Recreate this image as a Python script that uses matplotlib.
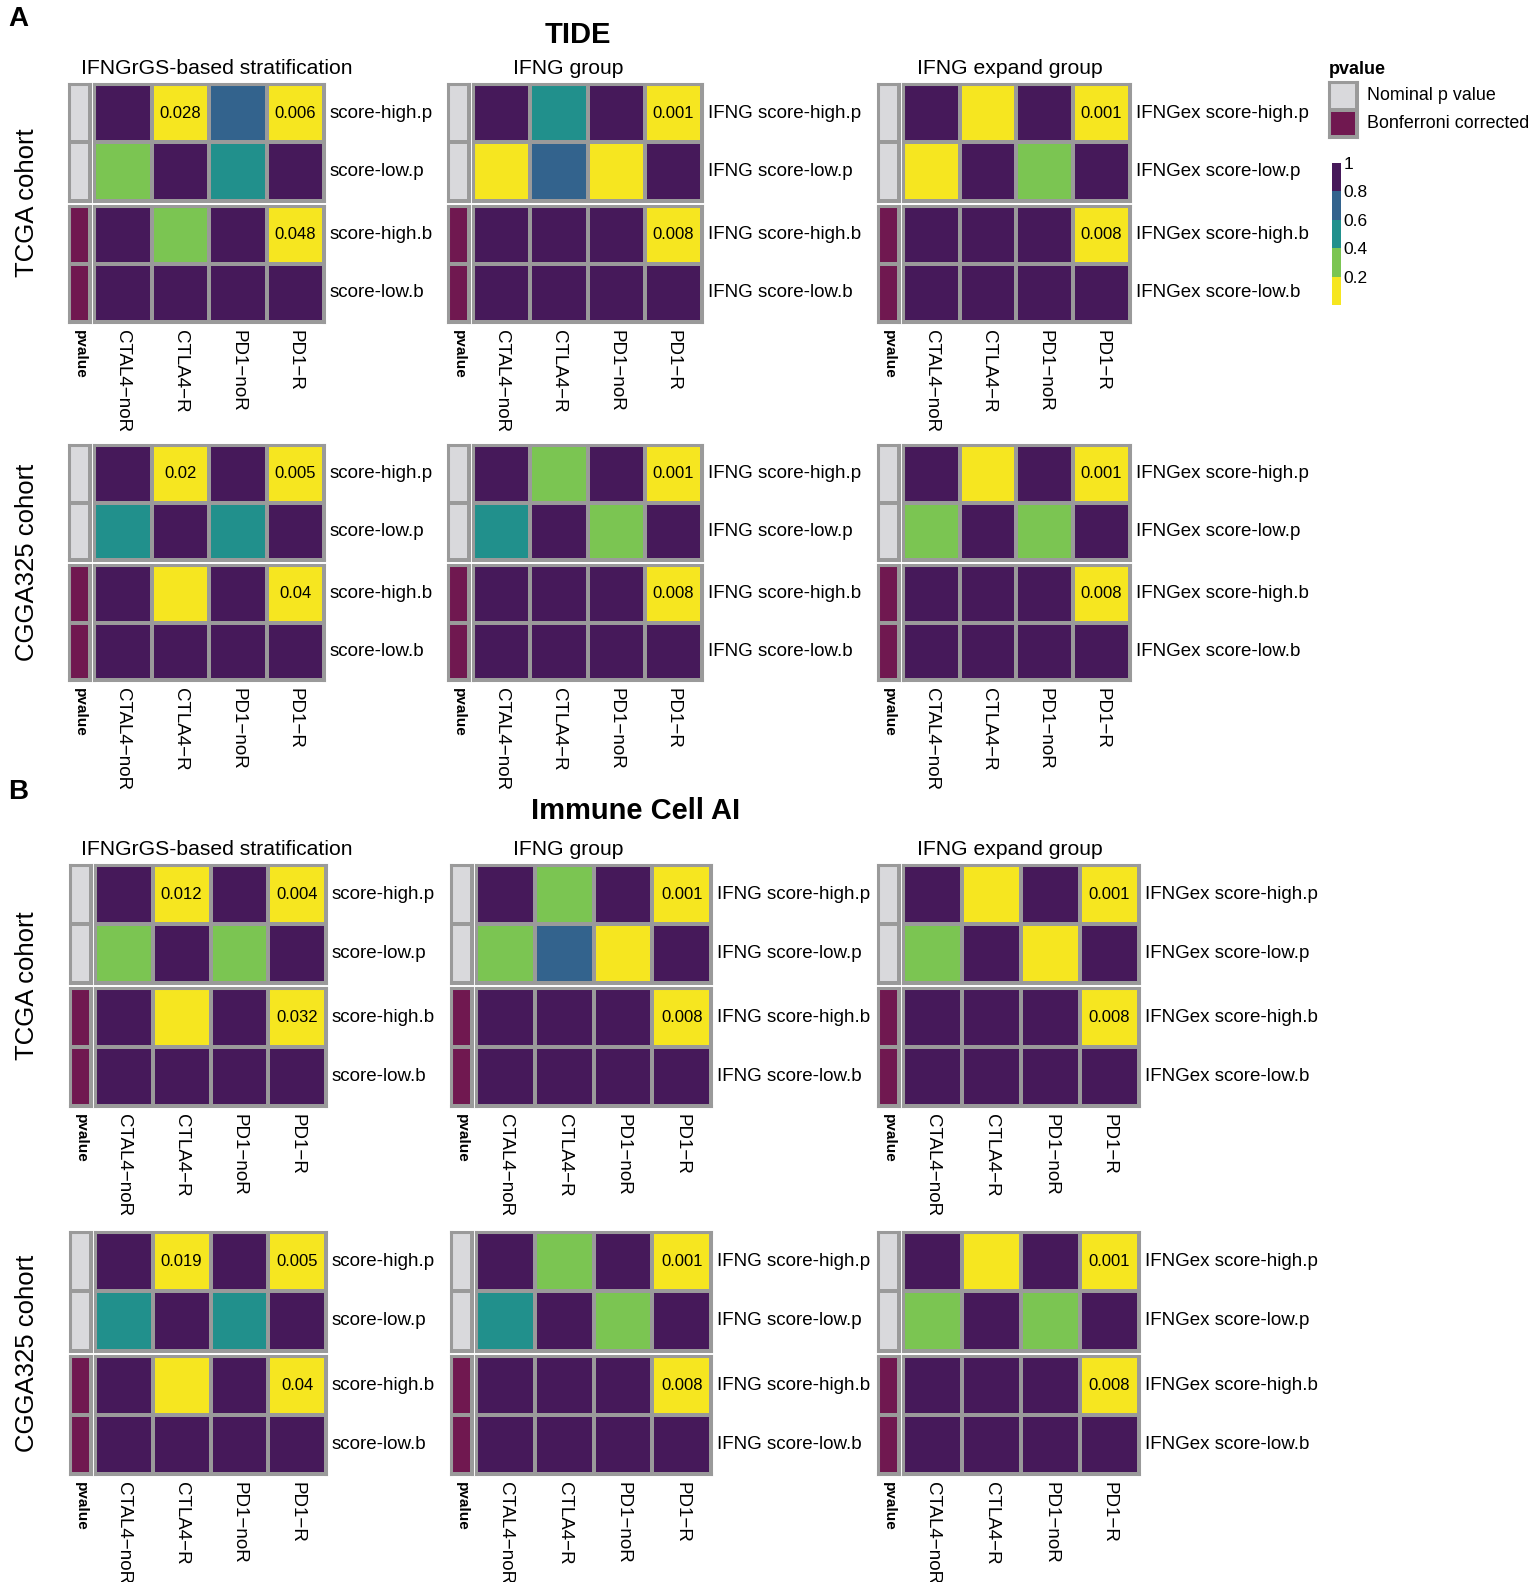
import matplotlib
matplotlib.use("Agg")
import matplotlib.pyplot as plt
import numpy as np
from matplotlib.colors import ListedColormap, BoundaryNorm
from matplotlib.cm import ScalarMappable

plt.rcParams['font.family'] = ['Liberation Sans', 'DejaVu Sans']

# ---- data ----
col_names = ["CTAL4\u2212noR", "CTLA4\u2212R", "PD1\u2212noR", "PD1\u2212R"]
row_suffix = ["score-high.p", "score-low.p", "score-high.b", "score-low.b"]
row_prefix = ["", "IFNG ", "IFNGex "]
group_titles = ["IFNGrGS-based stratification", "IFNG group", "IFNG expand group"]
cohorts = ["TCGA cohort", "CGGA325 cohort"]
pvalue_type = ["Nominal p value", "Nominal p value", "Bonferroni corrected", "Bonferroni corrected"]

# rows: high.p, low.p, high.b, low.b ; cols: CTAL4-noR, CTLA4-R, PD1-noR, PD1-R
tide_tcga_ifngrgs = [[0.9, 0.028, 0.7, 0.006], [0.3, 0.9, 0.5, 0.9], [1, 0.224, 1, 0.048], [1, 1, 1, 1]]
tide_tcga_ifng = [[0.9, 0.5, 0.9, 0.001], [0.1, 0.7, 0.1, 0.9], [1, 1, 1, 0.008], [1, 1, 1, 1]]
tide_tcga_ifngex = [[0.9, 0.1, 0.9, 0.001], [0.1, 0.9, 0.3, 0.9], [1, 1, 1, 0.008], [1, 1, 1, 1]]
tide_cgga_ifngrgs = [[0.9, 0.02, 0.9, 0.005], [0.5, 0.9, 0.5, 0.9], [1, 0.16, 1, 0.04], [1, 1, 1, 1]]
tide_cgga_ifng = [[0.9, 0.3, 0.9, 0.001], [0.5, 0.9, 0.3, 0.9], [1, 1, 1, 0.008], [1, 1, 1, 1]]
tide_cgga_ifngex = [[0.9, 0.1, 0.9, 0.001], [0.3, 0.9, 0.3, 0.9], [1, 1, 1, 0.008], [1, 1, 1, 1]]

ai_tcga_ifngrgs = [[0.9, 0.012, 0.9, 0.004], [0.3, 0.9, 0.3, 0.9], [1, 0.096, 1, 0.032], [1, 1, 1, 1]]
ai_tcga_ifng = [[0.9, 0.3, 0.9, 0.001], [0.3, 0.7, 0.1, 0.9], [1, 1, 1, 0.008], [1, 1, 1, 1]]
ai_tcga_ifngex = [[0.9, 0.1, 0.9, 0.001], [0.3, 0.9, 0.1, 0.9], [1, 1, 1, 0.008], [1, 1, 1, 1]]
ai_cgga_ifngrgs = [[0.9, 0.019, 0.9, 0.005], [0.5, 0.9, 0.5, 0.9], [1, 0.152, 1, 0.04], [1, 1, 1, 1]]
ai_cgga_ifng = [[0.9, 0.3, 0.9, 0.001], [0.5, 0.9, 0.3, 0.9], [1, 1, 1, 0.008], [1, 1, 1, 1]]
ai_cgga_ifngex = [[0.9, 0.1, 0.9, 0.001], [0.3, 0.9, 0.3, 0.9], [1, 1, 1, 0.008], [1, 1, 1, 1]]

sections = [
    ("A", "TIDE", [[tide_tcga_ifngrgs, tide_tcga_ifng, tide_tcga_ifngex],
                   [tide_cgga_ifngrgs, tide_cgga_ifng, tide_cgga_ifngex]]),
    ("B", "Immune Cell AI", [[ai_tcga_ifngrgs, ai_tcga_ifng, ai_tcga_ifngex],
                             [ai_cgga_ifngrgs, ai_cgga_ifng, ai_cgga_ifngex]]),
]

# ---- layout (pixels) ----
W, H = 1535, 1582
sec_cols = [[(94, 324), (473, 702), (903, 1130)],
            [(95, 326), (476, 711), (903, 1139)]]
sec_rows = [[(84, 322), (445, 680)],
            [(865, 1106), (1232, 1474)]]
sec_letter_y = [19, 792]
sec_title = [(578, 35), (636, 811)]
sec_group_title_y = [68, 850]
group_title_x = [217, 568, 1010]

heat_cmap = ListedColormap(['#F6E620', '#7BC552', '#21908C', '#33638D', '#46195A'])
heat_norm = BoundaryNorm([0, 0.2, 0.4, 0.6, 0.8, 1.0], heat_cmap.N)
type_levels = ["Nominal p value", "Bonferroni corrected"]
type_cmap = ListedColormap(['#D9D9DC', '#701850'])
edge = '#9a9a9a'

fig = plt.figure(figsize=(W / 100, H / 100), dpi=100)


def add_ax(x0, y0, x1, y1):
    return fig.add_axes([x0 / W, 1 - y1 / H, (x1 - x0) / W, (y1 - y0) / H])


def style(ax):
    ax.set_xticks([])
    ax.set_yticks([])
    for s in ax.spines.values():
        s.set_color(edge)
        s.set_linewidth(2.2)


for si, (letter, title, panels) in enumerate(sections):
    fig.text(8 / W, 1 - sec_letter_y[si] / H, letter, fontsize=20, fontweight='bold',
             ha='left', va='center')
    fig.text(sec_title[si][0] / W, 1 - sec_title[si][1] / H, title, fontsize=21,
             fontweight='bold', ha='center', va='center')
    for ci in range(3):
        fig.text(group_title_x[ci] / W, 1 - sec_group_title_y[si] / H, group_titles[ci],
                 fontsize=15.2, ha='center', va='center')
    for ri in range(2):
        top, bot = sec_rows[si][ri]
        fig.text(27 / W, 1 - (top + bot) / 2 / H, cohorts[ri], fontsize=18.5,
                 rotation=90, ha='center', va='center')
        gh = (bot - top - 5) / 2
        for ci in range(3):
            vals = np.array(panels[ri][ci], dtype=float)
            hx0, hx1 = sec_cols[si][ci]
            ax0, ax1 = hx0 - 25, hx0 - 4
            for g in range(2):
                gy0 = top + g * (gh + 5)
                gy1 = gy0 + gh
                sub = vals[g * 2:(g + 1) * 2]
                ax = add_ax(hx0, gy0, hx1, gy1)
                ax.pcolormesh(sub, cmap=heat_cmap, norm=heat_norm,
                              edgecolors=edge, linewidth=1.6)
                ax.set_xlim(0, 4)
                ax.set_ylim(2, 0)
                style(ax)
                for i in range(2):
                    for j in range(4):
                        v = sub[i, j]
                        if v < 0.05:
                            ax.text(j + 0.5, i + 0.5, f"{round(v, 3):g}", ha='center',
                                    va='center', fontsize=12)
                    ax.annotate(row_prefix[ci] + row_suffix[g * 2 + i], xy=(4, i + 0.5),
                                xytext=(4, 0), textcoords='offset points', ha='left',
                                va='center', fontsize=13.5, annotation_clip=False)
                tv = np.array([[type_levels.index(pvalue_type[g * 2 + i])] for i in range(2)])
                axa = add_ax(ax0, gy0, ax1, gy1)
                axa.pcolormesh(tv, cmap=type_cmap, vmin=0, vmax=1, edgecolors=edge,
                               linewidth=1.6)
                axa.set_xlim(0, 1)
                axa.set_ylim(2, 0)
                style(axa)
                if g == 1:
                    for j in range(4):
                        ax.annotate(col_names[j], xy=(j + 0.5, 2), xytext=(0, -6),
                                    textcoords='offset points', rotation=270, ha='center',
                                    va='top', fontsize=13.5, annotation_clip=False)
                    axa.annotate("pvalue", xy=(0.5, 2), xytext=(0, -6),
                                 textcoords='offset points', rotation=270, ha='center',
                                 va='top', fontsize=11, fontweight='bold',
                                 annotation_clip=False)

# ---- legends ----
fig.text(1329 / W, 1 - 70 / H, "pvalue", fontsize=13, fontweight='bold', ha='left', va='center')
lax = add_ax(1329, 82, 1357, 137)
lax.pcolormesh(np.array([[0], [1]]), cmap=type_cmap, vmin=0, vmax=1, edgecolors=edge, linewidth=1.6)
lax.set_xlim(0, 1)
lax.set_ylim(2, 0)
style(lax)
for i, lab in enumerate(type_levels):
    lax.annotate(lab, xy=(1, i + 0.5), xytext=(7, 0), textcoords='offset points',
                 ha='left', va='center', fontsize=12.9, annotation_clip=False)

cax = add_ax(1332, 163, 1341, 305)
cb = fig.colorbar(ScalarMappable(norm=heat_norm, cmap=heat_cmap), cax=cax,
                  ticks=[0.2, 0.4, 0.6, 0.8, 1.0])
cb.outline.set_visible(False)
cb.ax.minorticks_off()
cb.ax.set_yticklabels(['0.2', '0.4', '0.6', '0.8', '1'])
cb.ax.tick_params(length=0, labelsize=12.5, pad=2)

fig.savefig("out.png", dpi=100)
